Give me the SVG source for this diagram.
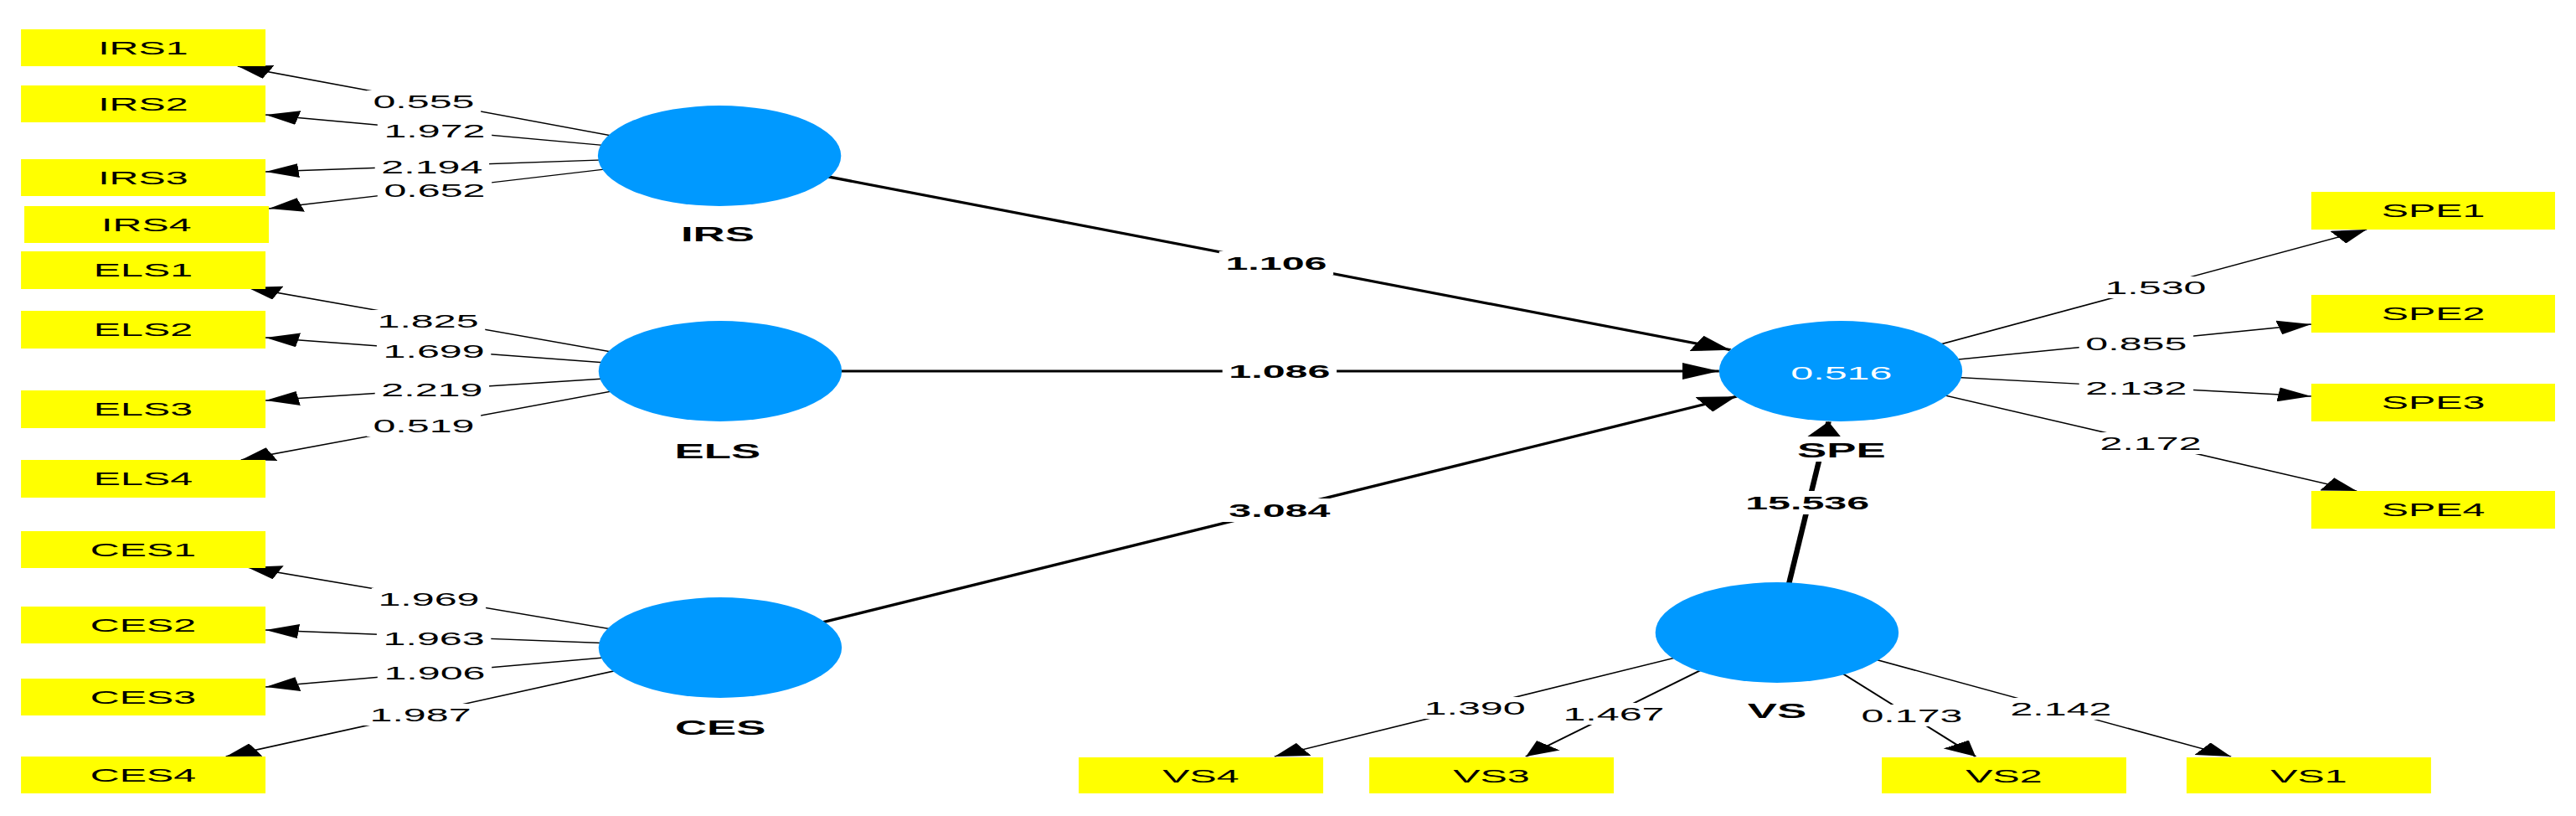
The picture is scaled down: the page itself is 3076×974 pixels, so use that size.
<svg xmlns="http://www.w3.org/2000/svg" width="3076" height="974" viewBox="0 0 3076 974">
<style>
.box{fill:#ffff00}
.lv{fill:#0099ff}
.t{font-family:"Liberation Sans",Arial,sans-serif;font-size:22px;text-anchor:middle;fill:#000}
.nl{font-weight:bold;font-size:24px}
.pl{font-weight:bold}
.w{fill:#fff}
.ld{stroke:#000;stroke-width:1.4;fill:none;marker-end:url(#a1)}
.pt{stroke:#000;stroke-width:3;fill:none;marker-end:url(#a2)}
.bg{fill:#fff}
</style>
<defs>
<marker id="a1" markerUnits="userSpaceOnUse" markerWidth="18" markerHeight="17" viewBox="0 0 18 17" refX="18" refY="8.5" orient="auto"><path d="M0,0 L18,8.5 L0,17 z" fill="#000"/></marker>
<marker id="a2" markerUnits="userSpaceOnUse" markerWidth="20" markerHeight="20" viewBox="0 0 20 20" refX="20" refY="10" orient="auto"><path d="M0,0 L20,10 L0,20 z" fill="#000"/></marker>
</defs>
<rect width="3076" height="974" fill="#fff"/>
<g transform="scale(2.2,1)">
<g id="connectors">
<path class="ld" d="M390.5,186 L129.1,79"/>
<path class="ld" d="M390.5,186 L144.1,137"/>
<path class="ld" d="M390.5,186 L144.1,205"/>
<path class="ld" d="M390.5,186 L145.9,249"/>
<path class="ld" d="M390.9,443 L134.1,343"/>
<path class="ld" d="M390.9,443 L144.1,403"/>
<path class="ld" d="M390.9,443 L144.1,478"/>
<path class="ld" d="M390.9,443 L130.9,549"/>
<path class="ld" d="M390.9,773 L134.1,677"/>
<path class="ld" d="M390.9,773 L144.1,752"/>
<path class="ld" d="M390.9,773 L144.1,820"/>
<path class="ld" d="M390.9,773 L122.7,903"/>
<path class="ld" d="M999.1,443 L1284.5,274"/>
<path class="ld" d="M999.1,443 L1254.5,387"/>
<path class="ld" d="M999.1,443 L1254.5,473"/>
<path class="ld" d="M999.1,443 L1279.1,586"/>
<path class="ld" d="M964.5,755 L691.8,903"/>
<path class="ld" d="M964.5,755 L828.2,903"/>
<path class="ld" d="M964.5,755 L1072.3,903"/>
<path class="ld" d="M964.5,755 L1210.9,903"/>
<path class="pt" d="M390.5,186 L939.2,417.7"/>
<path class="pt" d="M390.9,443 L933.1,443"/>
<path class="pt" d="M390.9,773 L942.4,473.2"/>
<path class="pt" d="M964.5,755 L992.5,503.3"/>
<g id="connector-labels">
<rect class="bg" x="199" y="108" width="62" height="26"/><text class="t" x="230" y="129">0.555</text>
<rect class="bg" x="204.9" y="143" width="62" height="26"/><text class="t" x="235.9" y="164">1.972</text>
<rect class="bg" x="203.5" y="186" width="62" height="26"/><text class="t" x="234.5" y="207">2.194</text>
<rect class="bg" x="204.9" y="214" width="62" height="26"/><text class="t" x="235.9" y="235">0.652</text>
<rect class="bg" x="201.3" y="370" width="62" height="26"/><text class="t" x="232.3" y="391">1.825</text>
<rect class="bg" x="204.5" y="406" width="62" height="26"/><text class="t" x="235.5" y="427">1.699</text>
<rect class="bg" x="203.5" y="452" width="62" height="26"/><text class="t" x="234.5" y="473">2.219</text>
<rect class="bg" x="199" y="495" width="62" height="26"/><text class="t" x="230" y="516">0.519</text>
<rect class="bg" x="201.7" y="702" width="62" height="26"/><text class="t" x="232.7" y="723">1.969</text>
<rect class="bg" x="204.5" y="749" width="62" height="26"/><text class="t" x="235.5" y="770">1.963</text>
<rect class="bg" x="204.9" y="790" width="62" height="26"/><text class="t" x="235.9" y="811">1.906</text>
<rect class="bg" x="197.2" y="840" width="62" height="26"/><text class="t" x="228.2" y="861">1.987</text>
<rect class="bg" x="1139" y="330" width="62" height="26"/><text class="t" x="1170" y="351">1.530</text>
<rect class="bg" x="1128.5" y="397" width="62" height="26"/><text class="t" x="1159.5" y="418">0.855</text>
<rect class="bg" x="1128.5" y="450" width="62" height="26"/><text class="t" x="1159.5" y="471">2.132</text>
<rect class="bg" x="1136.3" y="516" width="62" height="26"/><text class="t" x="1167.3" y="537">2.172</text>
<rect class="bg" x="769.5" y="832" width="62" height="26"/><text class="t" x="800.5" y="853">1.390</text>
<rect class="bg" x="844.9" y="839" width="62" height="26"/><text class="t" x="875.9" y="860">1.467</text>
<rect class="bg" x="1006.7" y="841" width="62" height="26"/><text class="t" x="1037.7" y="862">0.173</text>
<rect class="bg" x="1087.6" y="833" width="62" height="26"/><text class="t" x="1118.6" y="854">2.142</text>
<rect class="bg" x="661.7" y="300" width="62" height="28"/><text class="t pl" x="692.7" y="322">1.106</text>
<rect class="bg" x="663.5" y="429" width="62" height="28"/><text class="t pl" x="694.5" y="451">1.086</text>
<rect class="bg" x="663.5" y="595" width="62" height="28"/><text class="t pl" x="694.5" y="617">3.084</text>
<rect class="bg" x="946" y="586" width="70" height="28"/><text class="t pl" x="981" y="608">15.536</text>
</g>
</g>
<g id="IRS1"><rect class="box" x="11.4" y="35" width="132.7" height="44"/><text class="t" x="77.7" y="65">IRS1</text></g>
<g id="IRS2"><rect class="box" x="11.4" y="102" width="132.7" height="44"/><text class="t" x="77.7" y="132">IRS2</text></g>
<g id="IRS3"><rect class="box" x="11.4" y="190" width="132.7" height="44"/><text class="t" x="77.7" y="220">IRS3</text></g>
<g id="IRS4"><rect class="box" x="13.2" y="246" width="132.7" height="44"/><text class="t" x="79.5" y="276">IRS4</text></g>
<g id="ELS1"><rect class="box" x="11.4" y="300" width="132.7" height="45"/><text class="t" x="77.7" y="330">ELS1</text></g>
<g id="ELS2"><rect class="box" x="11.4" y="371" width="132.7" height="45"/><text class="t" x="77.7" y="401">ELS2</text></g>
<g id="ELS3"><rect class="box" x="11.4" y="466" width="132.7" height="45"/><text class="t" x="77.7" y="496">ELS3</text></g>
<g id="ELS4"><rect class="box" x="11.4" y="549" width="132.7" height="45"/><text class="t" x="77.7" y="579">ELS4</text></g>
<g id="CES1"><rect class="box" x="11.4" y="634" width="132.7" height="44"/><text class="t" x="77.7" y="664">CES1</text></g>
<g id="CES2"><rect class="box" x="11.4" y="724" width="132.7" height="44"/><text class="t" x="77.7" y="754">CES2</text></g>
<g id="CES3"><rect class="box" x="11.4" y="810" width="132.7" height="44"/><text class="t" x="77.7" y="840">CES3</text></g>
<g id="CES4"><rect class="box" x="11.4" y="903" width="132.7" height="44"/><text class="t" x="77.7" y="933">CES4</text></g>
<g id="SPE1"><rect class="box" x="1254.5" y="229" width="132.3" height="45"/><text class="t" x="1320.7" y="259">SPE1</text></g>
<g id="SPE2"><rect class="box" x="1254.5" y="352" width="132.3" height="45"/><text class="t" x="1320.7" y="382">SPE2</text></g>
<g id="SPE3"><rect class="box" x="1254.5" y="458" width="132.3" height="45"/><text class="t" x="1320.7" y="488">SPE3</text></g>
<g id="SPE4"><rect class="box" x="1254.5" y="586" width="132.3" height="45"/><text class="t" x="1320.7" y="616">SPE4</text></g>
<g id="VS4"><rect class="box" x="585.5" y="904" width="132.7" height="43"/><text class="t" x="651.8" y="934">VS4</text></g>
<g id="VS3"><rect class="box" x="743.2" y="904" width="132.7" height="43"/><text class="t" x="809.5" y="934">VS3</text></g>
<g id="VS2"><rect class="box" x="1021.4" y="904" width="132.7" height="43"/><text class="t" x="1087.7" y="934">VS2</text></g>
<g id="VS1"><rect class="box" x="1186.8" y="904" width="132.7" height="43"/><text class="t" x="1253.2" y="934">VS1</text></g>
<g id="IRS"><ellipse class="lv" cx="390.5" cy="186" rx="66" ry="60"/><text class="t nl" x="389.5" y="288">IRS</text></g>
<g id="ELS"><ellipse class="lv" cx="390.9" cy="443" rx="66" ry="60"/><text class="t nl" x="389.5" y="547">ELS</text></g>
<g id="CES"><ellipse class="lv" cx="390.9" cy="773" rx="66" ry="60"/><text class="t nl" x="391" y="877">CES</text></g>
<g id="SPE"><ellipse class="lv" cx="999.1" cy="443" rx="66" ry="60"/><text class="t w" x="999.5" y="453">0.516</text><rect class="bg" x="975" y="521" width="50" height="30"/><text class="t nl" x="999.5" y="546">SPE</text></g>
<g id="VS"><ellipse class="lv" cx="964.5" cy="755" rx="66" ry="60"/><text class="t nl" x="964.5" y="857">VS</text></g>
</g>
</svg>
